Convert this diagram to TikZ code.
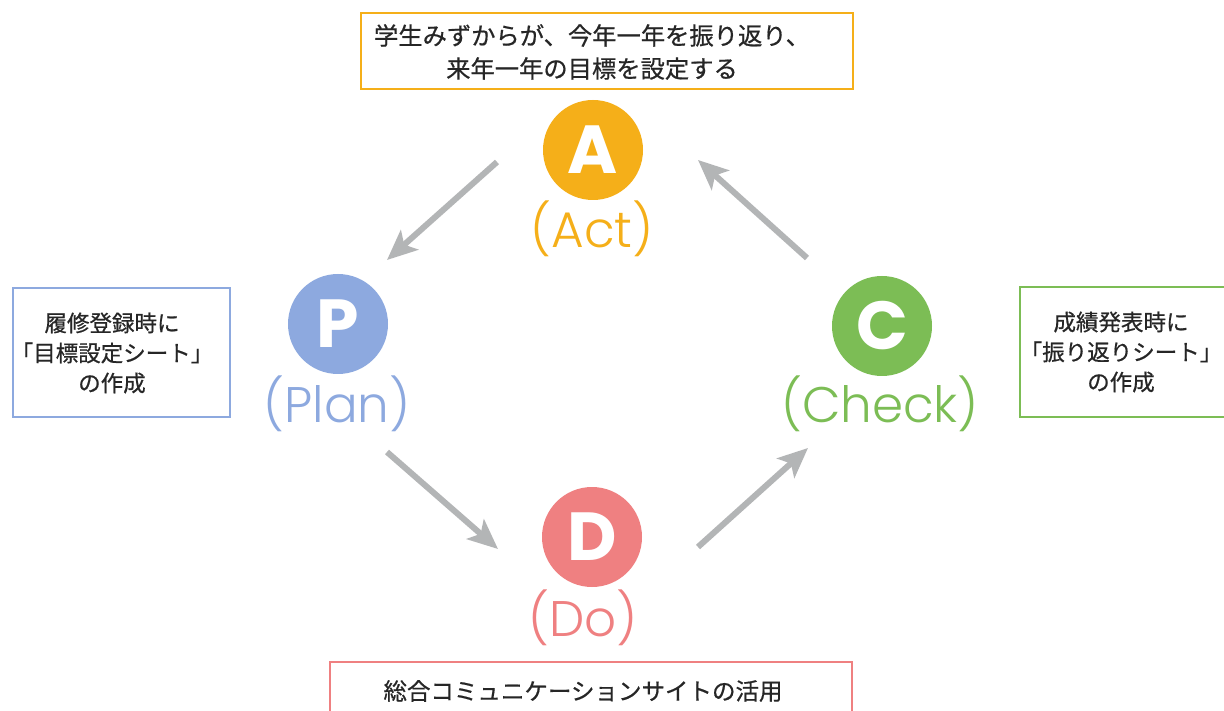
\documentclass[tikz,border=0pt]{standalone}
\usepackage{fontspec}
\usetikzlibrary{arrows.meta}
\setmainfont{Noto Sans CJK JP}
\newfontfamily\jp{Noto Sans CJK JP}[FakeBold=0.6]
\newfontfamily\lat{Poppins Light}
\newfontfamily\pop{Poppins}
\definecolor{cA}{HTML}{F5AF19}
\definecolor{cP}{HTML}{8DA9DF}
\definecolor{cC}{HTML}{7CBD55}
\definecolor{cD}{HTML}{EF8081}
\definecolor{arr}{HTML}{B3B5B6}
\definecolor{txt}{HTML}{262626}
\begin{document}
\begin{tikzpicture}[x=1pt,y=-1pt,
  circ/.style={circle, fill=#1, minimum size=100pt, inner sep=0pt, text=white,
    font=\pop\bfseries\fontsize{68}{68}\selectfont},
  lbl/.style={text=#1, inner sep=0pt, font=\lat\fontsize{50}{50}\selectfont},
  box/.style={draw=#1, line width=2pt, inner sep=0pt},
  jtext/.style={text=txt, inner sep=0pt, align=center, font=\jp\fontsize{24.3}{33}\selectfont},
  stext/.style={text=txt, inner sep=0pt, align=center, font=\jp\fontsize{22.5}{30}\selectfont},
  btext/.style={text=txt, inner sep=0pt, align=center, font=\jp\fontsize{23.5}{30}\selectfont},
  flow/.style={draw=arr, line width=6pt, -{Stealth[length=30pt,width=26pt,inset=7pt]}}]
\useasboundingbox (0,0) rectangle (1224,711);
\fill[white] (0,0) rectangle (1224,711);
% boxes
\node[box=cA, minimum width=492pt, minimum height=76pt] (topbox) at (607,51) {};
\node[jtext] (toptext) at (592,52) {学生みずからが、今年一年を振り返り、\\来年一年の目標を設定する};
\node[box=cP, minimum width=217pt, minimum height=129pt] (leftbox) at (121.5,352.5) {};
\node[stext] (lefttext) at (112,353) {履修登録時に\\「目標設定シート」\\の作成};
\node[box=cC, minimum width=217pt, minimum height=130pt] (rightbox) at (1128.5,352) {};
\node[stext] (righttext) at (1121,352) {成績発表時に\\「振り返りシート」\\の作成};
\node[box=cD, minimum width=522pt, minimum height=78pt] (botbox) at (591,701) {};
\node[btext] (bottext) at (583,691) {総合コミュニケーションサイトの活用};
% circles
\node[circ=cA] (A) at (593,150) {A};
\node[circ=cP] (P) at (338,324) {P};
\node[circ=cC] (C) at (882,326) {C};
\node[circ=cD] (D) at (592,537) {D};
% labels
\node[lbl=cA] (Alab) at (592,229) {(Act)};
\node[lbl=cP] (Plab) at (337,404) {(Plan)};
\node[lbl=cC] (Clab) at (880,404) {(Check)};
\node[lbl=cD] (Dlab) at (583,618) {(Do)};
% arrows
\coordinate (a1s) at (497,162); \coordinate (a1e) at (387,260);
\coordinate (a2s) at (387,452); \coordinate (a2e) at (498,549);
\coordinate (a3s) at (698,547); \coordinate (a3e) at (808,448);
\coordinate (a4s) at (807,258); \coordinate (a4e) at (698,160);
\draw[flow] (a1s) -- (a1e);
\draw[flow] (a2s) -- (a2e);
\draw[flow] (a3s) -- (a3e);
\draw[flow] (a4s) -- (a4e);
\end{tikzpicture}
\end{document}
